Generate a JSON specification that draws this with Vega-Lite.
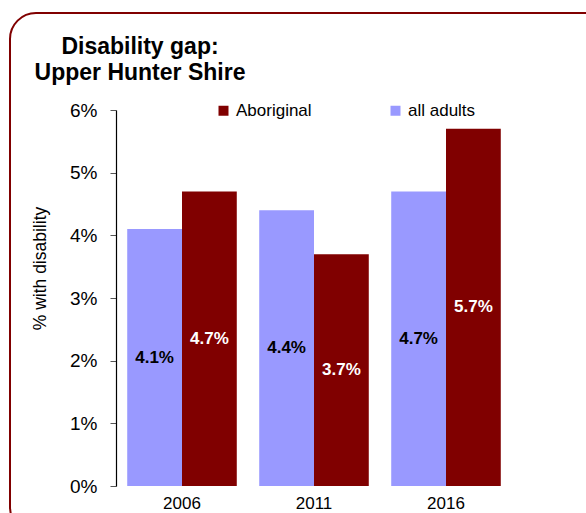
{
  "$schema": "https://vega.github.io/schema/vega-lite/v6.json",
  "autosize": {"type": "none"},
  "padding": {"left": 10, "top": 13, "right": 0, "bottom": 0},
  "width": 620,
  "height": 520,
  "background": "white",
  "title": {
    "text": ["Disability gap:", "Upper Hunter Shire"],
    "anchor": "start",
    "align": "center",
    "baseline": "top",
    "dx": 130,
    "dy": 76,
    "fontSize": 23,
    "fontWeight": "bold",
    "font": "Liberation Sans",
    "color": "black",
    "lineHeight": 26
  },
  "data": {
    "values": [
      {"year": "2006", "group": "all adults", "value": 0.041},
      {"year": "2006", "group": "Aboriginal", "value": 0.047},
      {"year": "2011", "group": "all adults", "value": 0.044},
      {"year": "2011", "group": "Aboriginal", "value": 0.037},
      {"year": "2016", "group": "all adults", "value": 0.047},
      {"year": "2016", "group": "Aboriginal", "value": 0.057}
    ]
  },
  "encoding": {
    "x": {
      "field": "year",
      "type": "nominal",
      "scale": {"range": [106, 502], "paddingInner": 0.17, "paddingOuter": 0.085},
      "axis": {
        "title": null,
        "labelAngle": 0,
        "domain": false,
        "ticks": false,
        "offset": -47,
        "labelPadding": 9,
        "labelFontSize": 17,
        "labelFont": "Liberation Sans",
        "labelColor": "black"
      }
    },
    "xOffset": {
      "field": "group",
      "type": "nominal",
      "sort": ["all adults", "Aboriginal"],
      "scale": {"paddingInner": 0, "paddingOuter": 0}
    }
  },
  "layer": [
    {
      "mark": {"type": "bar"},
      "encoding": {
        "y": {
          "field": "value",
          "type": "quantitative",
          "scale": {"domain": [0, 0.06], "range": [473, 97], "nice": false},
          "axis": {
            "format": ".0%",
            "values": [0, 0.01, 0.02, 0.03, 0.04, 0.05, 0.06],
            "offset": -106,
            "grid": false,
            "domainColor": "black",
            "domainWidth": 1.2,
            "tickColor": "#555555",
            "tickSize": 6,
            "labelPadding": 13,
            "labelFontSize": 19,
            "labelFont": "Liberation Sans",
            "labelColor": "black",
            "title": "% with disability",
            "titleFont": "Liberation Sans",
            "titleFontSize": 17.5,
            "titleFontWeight": "normal",
            "titleColor": "black",
            "titleX": -76,
            "titleY": 255,
            "titleAlign": "center",
            "titleBaseline": "middle",
            "titleAngle": -90
          }
        },
        "color": {
          "field": "group",
          "type": "nominal",
          "scale": {"domain": ["Aboriginal", "all adults"], "range": ["#800000", "#9999FF"]},
          "legend": {
            "title": null,
            "orient": "none",
            "legendX": 205,
            "legendY": 89,
            "direction": "horizontal",
            "columns": 2,
            "columnPadding": 75,
            "symbolType": "square",
            "symbolSize": 100,
            "symbolStrokeWidth": 0,
            "labelOffset": 4,
            "labelFontSize": 17,
            "labelFont": "Liberation Sans",
            "labelColor": "black"
          }
        }
      }
    },
    {
      "transform": [{"calculate": "datum.value / 2", "as": "mid"}],
      "mark": {"type": "text", "fontSize": 17, "fontWeight": "bold", "font": "Liberation Sans", "baseline": "middle"},
      "encoding": {
        "y": {"field": "mid", "type": "quantitative", "scale": {"domain": [0, 0.06], "range": [473, 97], "nice": false}},
        "text": {"field": "value", "type": "quantitative", "format": ".1%"},
        "color": {
          "condition": {"test": "datum.group === 'Aboriginal'", "value": "white"},
          "value": "black"
        }
      }
    }
  ],
  "config": {
    "view": {"stroke": "#800000", "strokeWidth": 2, "cornerRadius": 26}
  }
}
